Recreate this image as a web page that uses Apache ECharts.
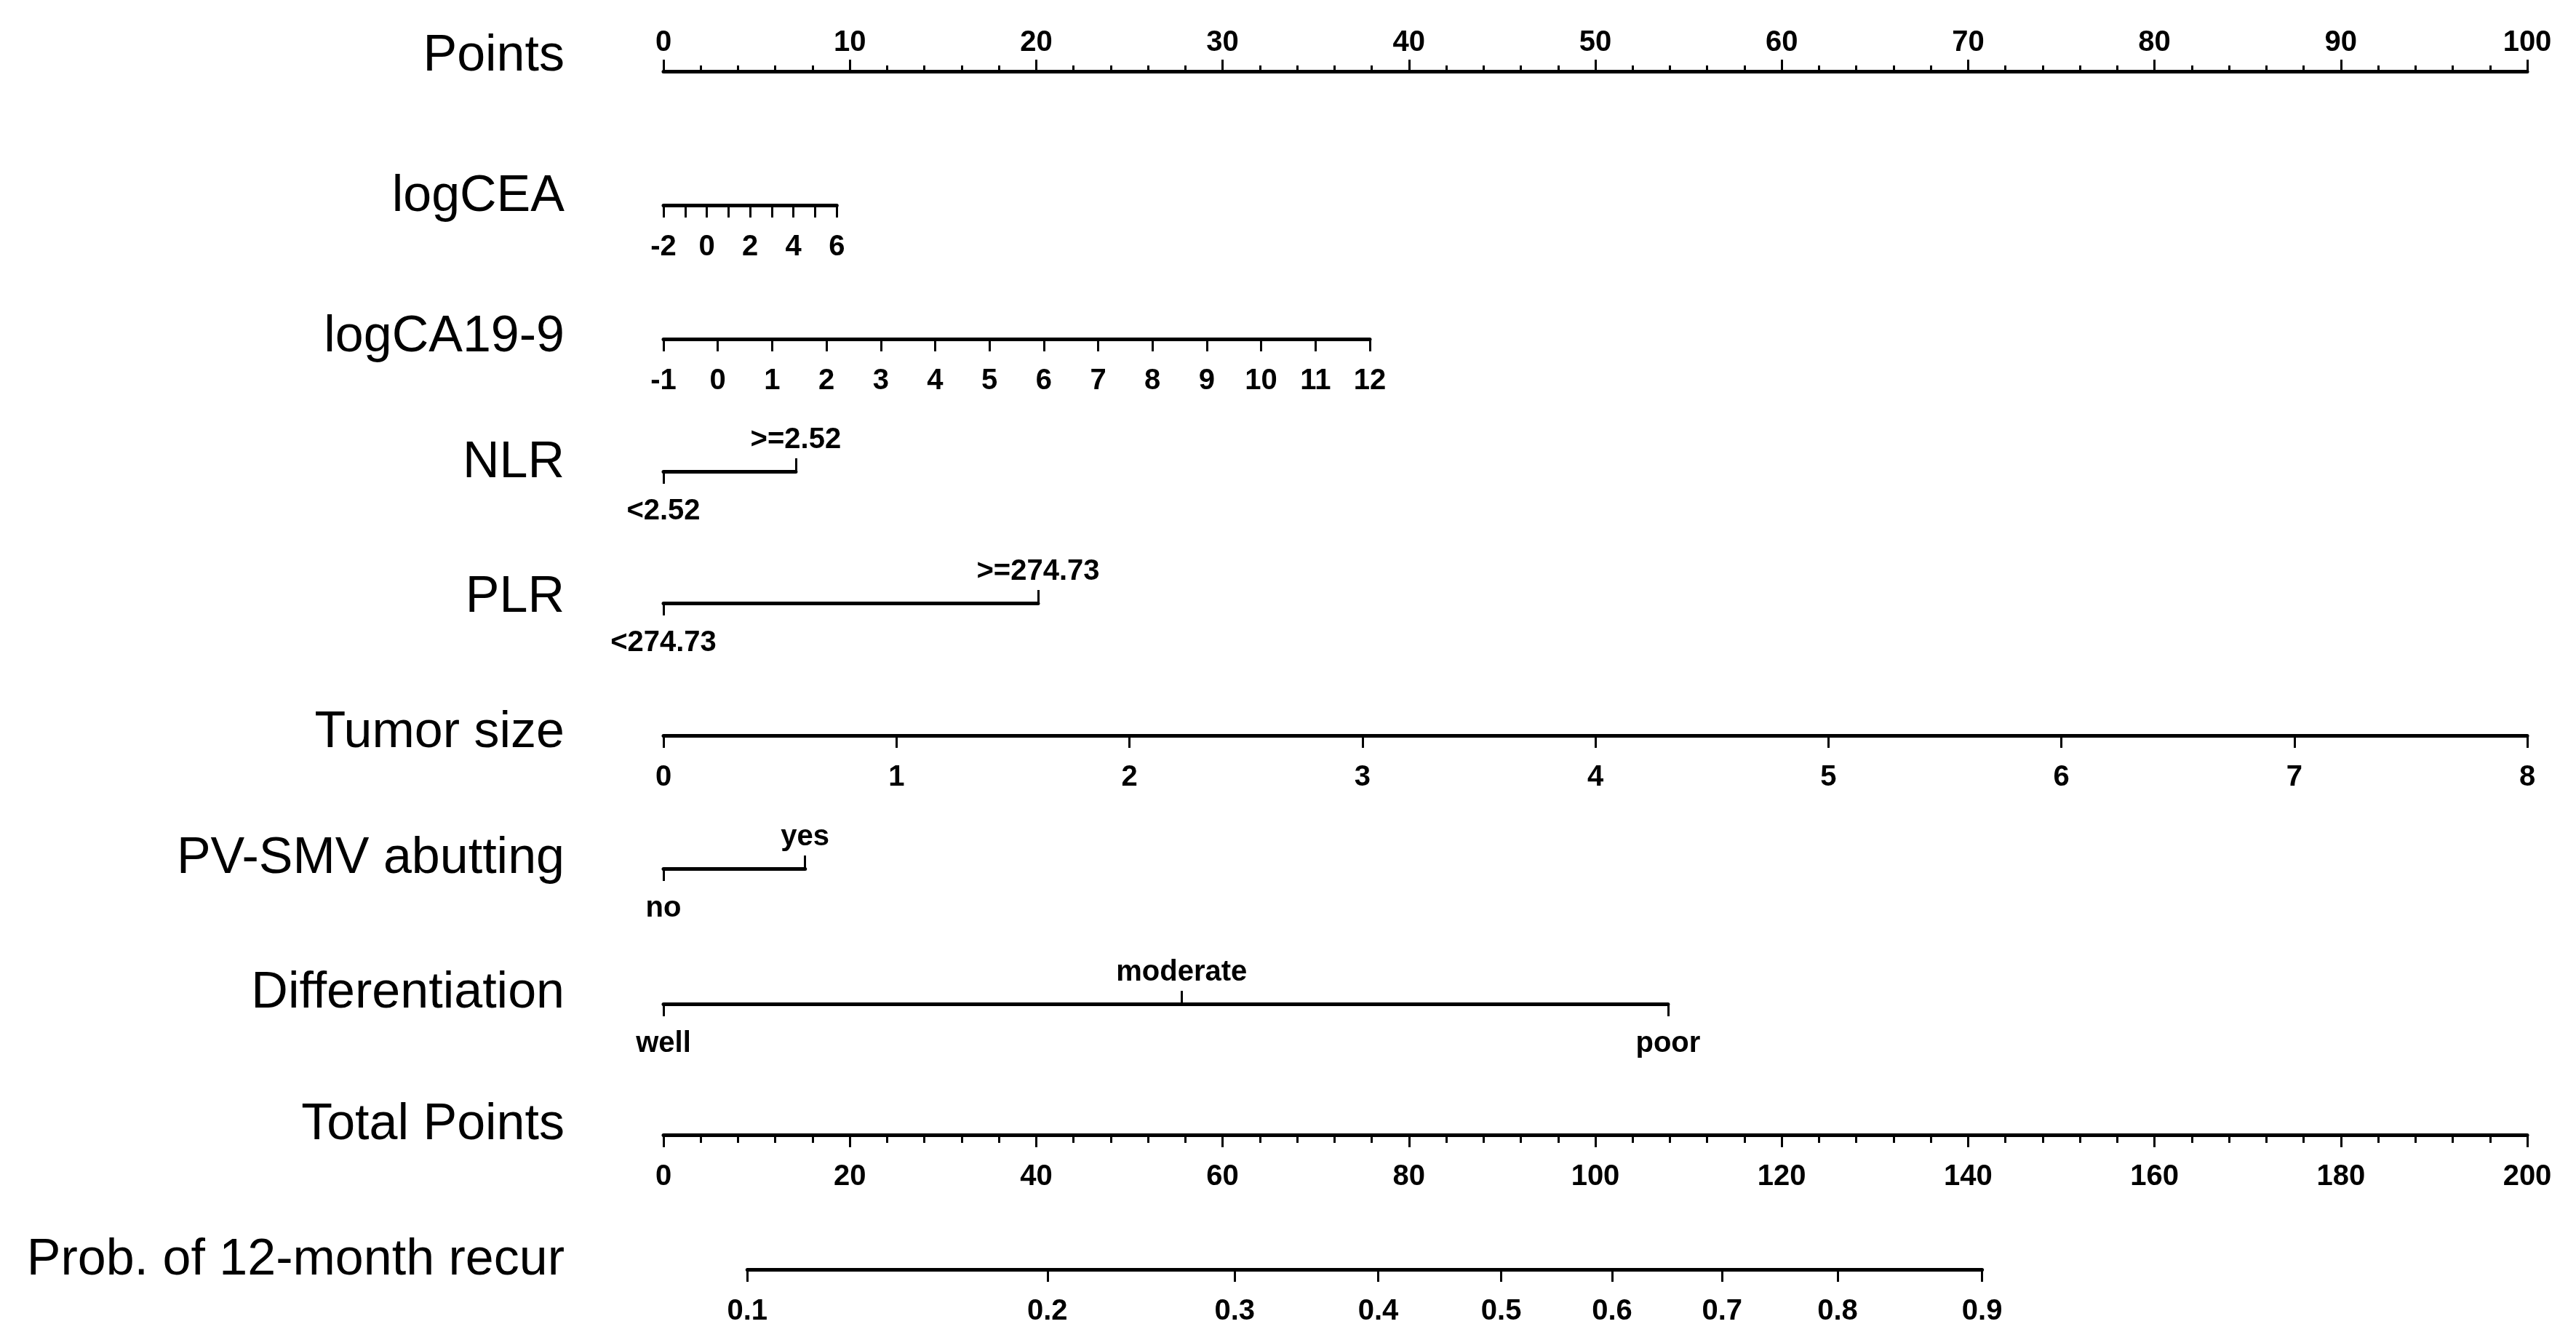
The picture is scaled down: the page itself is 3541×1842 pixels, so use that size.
<!DOCTYPE html>
<html>
<head>
<meta charset="utf-8">
<script src="https://cdn.jsdelivr.net/npm/echarts@6/dist/echarts.min.js"></script>
<style>
  html, body { margin: 0; padding: 0; background: #fff; }
  #nomogram { width: 3541px; height: 1842px; }
</style>
</head>
<body>
<div id="nomogram"></div>
<script>
// nomogram values (points scale 0-100, total points 0-200)
const rowNames = ['Points', 'logCEA', 'logCA19-9', 'NLR', 'PLR', 'Tumor size',
  'PV-SMV abutting', 'Differentiation', 'Total Points', 'Prob. of 12-month recur']

const pointsRange = [0, 100]
const logCEARange = [-2, 6]
const logCEAMaxPts = 9.3
const logCA199Range = [-1, 12]
const logCA199MaxPts = 37.9
const nlrLevels = ['<2.52', '>=2.52']
const nlrPts = [0, 7.1]
const plrLevels = ['<274.73', '>=274.73']
const plrPts = [0, 20.1]
const tumorRange = [0, 8]
const tumorMaxPts = 100
const pvLevels = ['no', 'yes']
const pvPts = [0, 7.6]
const diffLevels = ['well', 'moderate', 'poor']
const diffPts = [0, 27.8, 53.9]
const totalRange = [0, 200]
const probTicks = [0.1, 0.2, 0.3, 0.4, 0.5, 0.6, 0.7, 0.8, 0.9]
const probTotalPts = [9.0, 41.2, 61.3, 76.7, 89.9, 101.8, 113.6, 126.0, 141.5]

// layout
const X0 = 912
const X100 = 3474
const PX = (X100 - X0) / 100     // pixels per point
const PXT = (X100 - X0) / 200    // pixels per total point
const lineYs = [99, 282, 466, 648, 829, 1011, 1194, 1380, 1560, 1745]
const titleYs = [78, 271, 464, 637, 822, 1008, 1181, 1366, 1547, 1733]
const TITLE_RIGHT = 776
const TITLE_FONT = "'Liberation Sans', Arial, sans-serif"
const LABEL_FONT = "'Liberation Sans Narrow', 'Liberation Sans', Arial, sans-serif"
const LABEL_SIZE = 40

const grids = []
const xAxes = []
const yAxes = []

function addGrid(left, width, lineY) {
  const i = grids.length
  grids.push({ left: left, width: width, top: lineY - 1, height: 1, outerBoundsMode: 'none' })
  yAxes.push({ type: 'value', gridIndex: i, show: false })
  return i
}

function baseAxis(gi, min, max, position) {
  return {
    type: 'value',
    gridIndex: gi,
    min: min,
    max: max,
    position: position,
    axisLine: { show: true, onZero: false, lineStyle: { color: '#000', width: 5 } },
    axisTick: { show: true, length: 17, lineStyle: { color: '#000', width: 3 } },
    axisLabel: {
      show: true,
      color: '#000',
      fontFamily: LABEL_FONT,
      fontWeight: 'bold',
      fontSize: LABEL_SIZE,
      margin: position === 'top' ? 19 : 38,
      showMinLabel: true,
      showMaxLabel: true
    },
    splitLine: { show: false }
  }
}

function nearestIndex(list, v) {
  let best = 0
  list.forEach((p, i) => {
    if (Math.abs(p - v) < Math.abs(list[best] - v)) best = i
  })
  return best
}

// Points
let gi = addGrid(X0, (pointsRange[1] - pointsRange[0]) * PX, lineYs[0])
let ax = baseAxis(gi, pointsRange[0], pointsRange[1], 'top')
ax.interval = 10
ax.axisTick.length = 16
ax.minorTick = { show: true, splitNumber: 5, length: 8, lineStyle: { color: '#000', width: 3 } }
xAxes.push(ax)

// logCEA
gi = addGrid(X0, logCEAMaxPts * PX, lineYs[1])
ax = baseAxis(gi, logCEARange[0], logCEARange[1], 'bottom')
ax.interval = 1
ax.axisLabel.formatter = v => (v % 2 === 0 ? String(v) : '')
xAxes.push(ax)

// logCA19-9
gi = addGrid(X0, logCA199MaxPts * PX, lineYs[2])
ax = baseAxis(gi, logCA199Range[0], logCA199Range[1], 'bottom')
ax.interval = 1
xAxes.push(ax)

// categorical rows: first/third level below the line, second above
function categoricalRow(lineY, levels, pts) {
  const maxPts = Math.max(...pts)
  const g = addGrid(X0, maxPts * PX, lineY)
  const below = pts.filter((p, i) => i % 2 === 0)
  const above = pts.filter((p, i) => i % 2 === 1)
  const fmt = v => levels[nearestIndex(pts, v)]

  const low = baseAxis(g, 0, maxPts, 'bottom')
  low.axisTick.customValues = below
  low.axisLabel.customValues = below
  low.axisLabel.formatter = fmt
  low.axisLabel.margin = 35
  xAxes.push(low)

  const high = baseAxis(g, 0, maxPts, 'top')
  high.axisLine.show = false
  high.axisTick.customValues = above
  high.axisLabel.customValues = above
  high.axisLabel.formatter = fmt
  high.axisLabel.margin = 22
  xAxes.push(high)
}

categoricalRow(lineYs[3], nlrLevels, nlrPts)
categoricalRow(lineYs[4], plrLevels, plrPts)

// Tumor size
gi = addGrid(X0, tumorMaxPts * PX, lineYs[5])
ax = baseAxis(gi, tumorRange[0], tumorRange[1], 'bottom')
ax.interval = 1
xAxes.push(ax)

categoricalRow(lineYs[6], pvLevels, pvPts)
categoricalRow(lineYs[7], diffLevels, diffPts)

// Total Points
gi = addGrid(X0, (totalRange[1] - totalRange[0]) * PXT, lineYs[8])
ax = baseAxis(gi, totalRange[0], totalRange[1], 'bottom')
ax.interval = 20
ax.minorTick = { show: true, splitNumber: 5, length: 11, lineStyle: { color: '#000', width: 3 } }
xAxes.push(ax)

// probability, placed on the total points scale
const probMin = probTotalPts[0]
const probMax = probTotalPts[probTotalPts.length - 1]
gi = addGrid(X0 + probMin * PXT, (probMax - probMin) * PXT, lineYs[9])
ax = baseAxis(gi, probMin, probMax, 'bottom')
ax.axisTick.customValues = probTotalPts
ax.axisLabel.customValues = probTotalPts
ax.axisLabel.formatter = v => probTicks[nearestIndex(probTotalPts, v)].toFixed(1)
xAxes.push(ax)

const titles = rowNames.map((name, i) => ({
  type: 'text',
  x: TITLE_RIGHT,
  y: titleYs[i],
  style: {
    text: name,
    fill: '#000',
    font: '70px ' + TITLE_FONT,
    textAlign: 'right',
    textVerticalAlign: 'middle'
  }
}))

const chart = echarts.init(document.getElementById('nomogram'))
chart.setOption({
  backgroundColor: '#fff',
  animation: false,
  textStyle: { fontFamily: TITLE_FONT },
  grid: grids,
  xAxis: xAxes,
  yAxis: yAxes,
  graphic: titles,
  series: []
})
</script>
</body>
</html>
